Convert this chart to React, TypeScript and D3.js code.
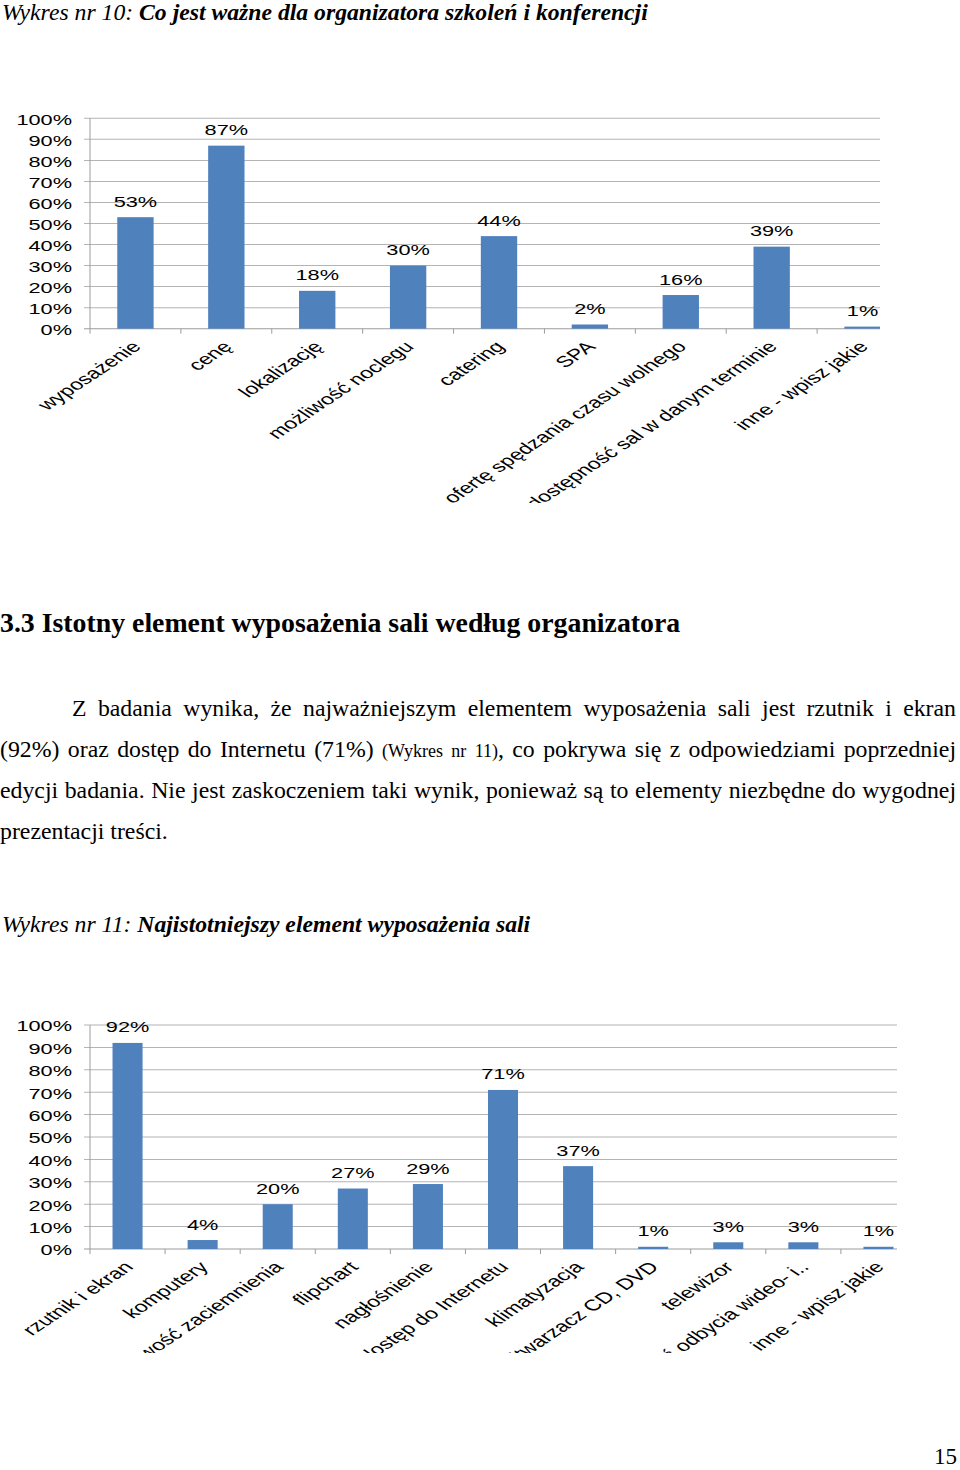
import React, { useLayoutEffect, useRef, useState } from "react";
import * as d3 from "d3";

// ---------- data ----------
const chart1Categories = [
  "wyposażenie",
  "cenę",
  "lokalizację",
  "możliwość noclegu",
  "catering",
  "SPA",
  "ofertę spędzania czasu wolnego",
  "dostępność sal w danym terminie",
  "inne - wpisz jakie",
];
const chart1Values = [53, 87, 18, 30, 44, 2, 16, 39, 1];

const chart2Categories = [
  "rzutnik i ekran",
  "komputery",
  "możliwość zaciemnienia",
  "flipchart",
  "nagłośnienie",
  "dostęp do Internetu",
  "klimatyzacja",
  "odtwarzacz CD, DVD",
  "telewizor",
  "możliwość odbycia wideo- i..",
  "inne - wpisz jakie",
];
const chart2Values = [92, 4, 20, 27, 29, 71, 37, 1, 3, 3, 1];

const yTickValues = [0, 10, 20, 30, 40, 50, 60, 70, 80, 90, 100];

// ---------- style ----------
const SX = 1.5; // the chart pictures are stretched horizontally
const BAR = "#4F81BD";
const GRID = "#b4b4b4";
const AXIS = "#9c9c9c";
const SANS = "'Liberation Sans', Arial, sans-serif";
const SERIF = "'Liberation Serif', 'Times New Roman', serif";

type ChartProps = {
  id: string;
  categories: string[];
  values: number[];
  x0: number;
  x1: number;
  yZero: number;
  yFull: number;
  clipRight: number;
  clipTop: number;
  clipBottom: number;
};

function BarChart({ id, categories, values, x0, x1, yZero, yFull, clipRight, clipTop, clipBottom }: ChartProps) {
  const x = d3.scaleBand<string>().domain(categories).range([x0 / SX, x1 / SX]).padding(0);
  const y = d3.scaleLinear().domain([0, 100]).range([yZero, yFull]);
  const step = x.step();
  const bw = step * 0.4;
  const left = x0 / SX;
  const right = x1 / SX;
  const fs = 14.5;
  const catFs = 15.5;
  return (
    <g transform={`scale(${SX},1)`}>
      <defs>
        <clipPath id={id} clipPathUnits="userSpaceOnUse">
          <rect x={0} y={clipTop} width={clipRight / SX} height={clipBottom - clipTop} />
        </clipPath>
      </defs>
      <g clipPath={`url(#${id})`}>
        {yTickValues.map((v) => (
          <line
            key={"g" + v}
            x1={left - 4}
            x2={right}
            y1={y(v)}
            y2={y(v)}
            stroke={v === 0 ? AXIS : GRID}
            strokeWidth={1}
          />
        ))}
        <line x1={left} x2={left} y1={y(100)} y2={y(0)} stroke={AXIS} strokeWidth={1} vectorEffect="non-scaling-stroke" />
        {d3.range(categories.length + 1).map((i) => (
          <line
            key={"t" + i}
            x1={left + i * step}
            x2={left + i * step}
            y1={y(0)}
            y2={y(0) + 5}
            stroke={AXIS}
            strokeWidth={1}
            vectorEffect="non-scaling-stroke"
          />
        ))}
        {categories.map((c, i) => {
          const cx = (x(c) as number) + step / 2;
          return (
            <g key={"b" + i}>
              <rect x={cx - bw / 2} y={y(values[i])} width={bw} height={y(0) - y(values[i])} fill={BAR} />
              <text
                x={cx}
                y={y(values[i]) - 10.5}
                textAnchor="middle"
                fontFamily={SANS}
                fontSize={fs}
                fill="#000"
              >
                {values[i] + "%"}
              </text>
              <text
                transform={`translate(${cx + 4.5},${y(0) + 19}) rotate(-45)`}
                textAnchor="end"
                fontFamily={SANS}
                fontSize={catFs}
                fill="#000"
              >
                {c}
              </text>
            </g>
          );
        })}
      </g>
      {yTickValues.map((v) => (
        <text
          key={"l" + v}
          x={72 / SX}
          y={y(v) + 6.5}
          textAnchor="end"
          fontFamily={SANS}
          fontSize={fs}
          fill="#000"
        >
          {v + "%"}
        </text>
      ))}
    </g>
  );
}

type Seg = { t: string; small?: boolean };

const BODY_FS = 23.8;
const SMALL_FS = 18;

function JustifiedLine({ x, y, width, segs }: { x: number; y: number; width: number; segs: Seg[] }) {
  const tokens: Seg[][] = [];
  let cur: Seg[] = [];
  segs.forEach((s) => {
    const parts = s.t.split(" ");
    parts.forEach((p, i) => {
      if (i > 0) {
        if (cur.length) tokens.push(cur);
        cur = [];
      }
      if (p) cur.push({ t: p, small: s.small });
    });
  });
  if (cur.length) tokens.push(cur);

  const refs = useRef<(SVGTextElement | null)[]>([]);
  const [xs, setXs] = useState<number[] | null>(null);
  useLayoutEffect(() => {
    const measure = () => {
      const w = tokens.map((_, i) => {
        const el = refs.current[i];
        return el ? el.getComputedTextLength() : 0;
      });
      const total = w.reduce((a, b) => a + b, 0);
      const gap = w.length > 1 ? (width - total) / (w.length - 1) : 0;
      let cx = x;
      const out: number[] = [];
      w.forEach((wi) => {
        out.push(cx);
        cx += wi + gap;
      });
      setXs(out);
    };
    measure();
    const f = (document as any).fonts;
    if (f && f.ready) f.ready.then(measure);
  }, [width, x]);

  return (
    <g>
      {tokens.map((tok, i) => (
        <text
          key={i}
          ref={(el) => {
            refs.current[i] = el;
          }}
          x={xs ? xs[i] : x + i * 8}
          y={y}
          fontFamily={SERIF}
          fontSize={BODY_FS}
          fill="#000"
        >
          {tok.map((s, j) => (
            <tspan key={j} fontSize={s.small ? SMALL_FS : BODY_FS}>
              {s.t}
            </tspan>
          ))}
        </text>
      ))}
    </g>
  );
}

const bodyLine1: Seg[] = [{ t: "Z badania wynika, że najważniejszym elementem wyposażenia sali jest rzutnik i ekran" }];
const bodyLine2: Seg[] = [
  { t: "(92%) oraz dostęp do Internetu (71%) " },
  { t: "(Wykres nr 11)", small: true },
  { t: ", co pokrywa się z odpowiedziami poprzedniej" },
];
const bodyLine3: Seg[] = [
  { t: "edycji badania. Nie jest zaskoczeniem taki wynik, ponieważ są to elementy niezbędne do wygodnej" },
];

export default function App() {
  return (
    <svg
      width={960}
      height={1470}
      style={{ position: "absolute", left: 0, top: 0, background: "#fff" }}
      xmlns="http://www.w3.org/2000/svg"
    >
      <rect x={0} y={0} width={960} height={1470} fill="#fff" />

      <text x={2} y={20} fontFamily={SERIF} fontSize={23.7} fontStyle="italic" fill="#000">
        {"Wykres nr 10: "}
        <tspan fontWeight="bold">{"Co jest ważne dla organizatora szkoleń i konferencji"}</tspan>
      </text>

      <BarChart
        id="clip1"
        categories={chart1Categories}
        values={chart1Values}
        x0={90}
        x1={908}
        yZero={328.7}
        yFull={118.3}
        clipRight={880}
        clipTop={100}
        clipBottom={503}
      />

      <text x={0} y={632} fontFamily={SERIF} fontSize={27.8} fontWeight="bold" fill="#000">
        {"3.3 Istotny element wyposażenia sali według organizatora"}
      </text>

      <JustifiedLine x={72} y={716} width={884} segs={bodyLine1} />
      <JustifiedLine x={0} y={757} width={956} segs={bodyLine2} />
      <JustifiedLine x={0} y={798} width={956} segs={bodyLine3} />
      <text x={0} y={839} fontFamily={SERIF} fontSize={BODY_FS} fill="#000">
        {"prezentacji treści."}
      </text>

      <text x={2} y={932} fontFamily={SERIF} fontSize={23.7} fontStyle="italic" fill="#000">
        {"Wykres nr 11: "}
        <tspan fontWeight="bold">{"Najistotniejszy element wyposażenia sali"}</tspan>
      </text>

      <BarChart
        id="clip2"
        categories={chart2Categories}
        values={chart2Values}
        x0={90}
        x1={916}
        yZero={1249}
        yFull={1025}
        clipRight={897}
        clipTop={1005}
        clipBottom={1353}
      />

      <text x={957} y={1464} textAnchor="end" fontFamily={SERIF} fontSize={23} fill="#000">
        {"15"}
      </text>
    </svg>
  );
}
